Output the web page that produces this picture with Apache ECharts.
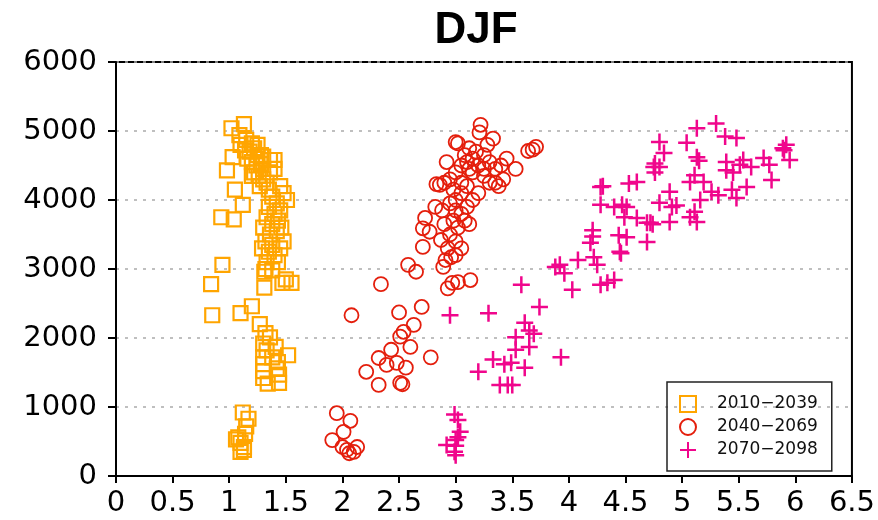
<!DOCTYPE html>
<html>
<head>
<meta charset="utf-8">
<script src="https://cdn.jsdelivr.net/npm/echarts@6/dist/echarts.min.js"></script>
<style>html,body{margin:0;padding:0;background:#fff}#c{width:878px;height:520px}</style>
</head>
<body>
<div id="c"></div>
<script>
const titleText = 'DJF';
const seriesNames = ['2010\u22122039', '2040\u22122069', '2070\u22122098'];
const xTicks = [0, 0.5, 1, 1.5, 2, 2.5, 3, 3.5, 4, 4.5, 5, 5.5, 6, 6.5];
const yTicks = [0, 1000, 2000, 3000, 4000, 5000, 6000];

const p2010 = [
 [1.12,920],[1.17,830],[1.15,720],[1.08,560],[1.1,480],[1.13,420],[1.1,350],[1.13,380],[1.06,530],[1.14,610],
 [0.85,2330],[1.1,2360],[1.2,2460],[1.27,2200],[1.32,2070],[1.36,2010],[1.3,1920],[1.33,1820],[1.3,1720],[1.3,1620],
 [1.3,1520],[1.3,1420],[1.34,1340],[1.44,1350],[1.42,1560],[1.43,1650],[1.52,1750],[1.41,1870],[1.38,1720],[1.44,1470],
 [0.84,2780],[0.94,3060],[0.93,3750],[1.04,3720],[1.12,3930],[1.05,4150],[0.98,4430],[1.03,4620],[1.09,4940],[1.02,5040],
 [1.13,5100],[1.1,4800],[1.15,4870],[1.2,4820],[1.18,4700],[1.22,4750],[1.25,4650],[1.16,4600],[1.2,4550],[1.24,4500],
 [1.28,4520],[1.3,4450],[1.22,4400],[1.26,4350],[1.3,4300],[1.27,4200],[1.33,4250],[1.36,4580],[1.4,4580],[1.4,4450],
 [1.35,4150],[1.48,4100],[1.51,4000],[1.38,4050],[1.42,3950],[1.35,3900],[1.4,3800],[1.45,3850],[1.33,3750],[1.38,3650],
 [1.43,3700],[1.3,3600],[1.36,3500],[1.42,3550],[1.32,3400],[1.38,3350],[1.29,3300],[1.35,3250],[1.4,3200],[1.33,3100],
 [1.43,3100],[1.31,2960],[1.38,2980],[1.31,2730],[1.47,2800],[1.55,2800],[1.5,2850],[1.25,4800],[1.14,4720],[1.3,4630],
 [1.2,4350],[1.45,4200],[1.32,3000],[1.46,3600],[1.48,3400],[1.45,3300],[1.36,4400],[1.28,4650]
];

const p2040 = [
 [1.95,910],[2.07,800],[2.01,640],[1.91,520],[2.0,420],[2.06,330],[2.13,420],[2.1,350],[2.04,380],
 [2.08,2330],[2.34,2780],[2.5,2370],[2.7,2450],[2.63,2190],[2.54,2090],[2.51,2020],[2.6,1870],[2.43,1830],[2.32,1710],
 [2.39,1610],[2.48,1640],[2.56,1570],[2.21,1510],[2.32,1320],[2.51,1350],[2.53,1330],[2.78,1720],
 [2.58,3060],[2.65,2960],[2.93,2720],[2.97,2800],[3.02,2810],[3.13,2840],[2.91,3130],[2.89,3030],[2.96,3170],[2.71,3320],
 [2.87,3420],[2.71,3590],[2.77,3540],[2.73,3740],[2.82,3900],[2.83,4230],[2.86,4220],[2.92,4550],[3.0,4840],[3.22,5090],
 [3.21,4980],[3.33,4890],[3.71,4770],[3.68,4730],[3.64,4710],[3.53,4450],[3.02,4820],
 [2.9,4250],[2.95,4300],[3.0,4400],[3.05,4500],[3.1,4550],[3.15,4600],[3.2,4500],[3.25,4650],[3.3,4550],[3.35,4450],
 [3.4,4500],[3.45,4600],[3.42,4300],[3.38,4200],[3.3,4250],[3.25,4350],[3.15,4400],[3.1,4200],[3.05,4100],[3.0,4000],
 [2.95,3950],[3.0,3850],[3.05,3800],[3.1,3900],[3.15,4000],[3.2,4100],[2.98,3700],[3.02,3600],[2.9,3650],[2.95,3500],
 [3.0,3400],[3.05,3300],[2.93,3300],[3.0,3200],[3.08,3700],[3.12,3650],[3.18,4700],[3.12,4750],[3.08,4650],[3.28,4800],
 [3.25,4450],[3.35,4250],[2.98,4150],[3.05,4250],[3.12,4450],[2.88,3850]
];

const p2070 = [
 [2.99,890],[3.02,810],[3.04,640],[3.0,520],[2.92,450],[2.99,350],[3.0,300],[3.0,440],[3.02,560],
 [2.95,2330],[3.29,2360],[3.58,2770],[3.74,2450],[3.61,2220],[3.65,2110],[3.69,2060],[3.53,2010],[3.65,1870],[3.53,1830],
 [3.33,1690],[3.43,1620],[3.49,1640],[3.61,1570],[3.2,1510],[3.39,1320],[3.46,1320],[3.5,1320],[3.93,1720],
 [3.88,3030],[4.03,2700],[4.28,2770],[4.25,3060],[3.92,3060],[3.96,2940],[4.08,3130],[4.22,3170],[4.34,2800],[4.4,2840],
 [4.19,3380],[4.21,3560],[4.21,3470],[4.28,4190],[4.28,3930],[4.4,3900],[4.47,3930],[4.51,3900],[4.49,3750],[4.44,3490],
 [4.51,3460],[4.45,3250],[4.46,3230],[4.6,3740],[4.69,3670],[4.69,3390],[4.53,4240],[4.6,4260],[4.75,4480],[4.76,4400],
 [4.8,4840],[4.84,4680],[4.76,4530],[4.8,4480],[4.89,4120],[5.07,4260],[5.11,4360],[5.13,4620],[5.15,4570],[5.04,4830],
 [5.13,5040],[5.3,5110],[5.38,4920],[5.48,4900],[5.32,4070],[5.44,4150],[5.48,4030],[5.57,4190],[5.45,4400],[5.51,4510],
 [5.54,4580],[5.61,4480],[5.39,4550],[5.39,4430],[5.72,4610],[5.77,4510],[5.79,4290],[5.89,4750],[5.92,4800],[5.9,4720],
 [5.95,4580],[4.91,3900],[4.8,3960],[4.95,3920],[5.07,3750],[5.11,3830],[5.13,3680],[4.89,3680],[4.72,3670],[5.16,4000],
 [5.26,4120],[5.19,4260],[4.74,3650],[4.3,4200]
];

const colors = ['#ffa500', '#e41e0c', '#f0068c'];
const FONT = 'DejaVu Sans';
const chart = echarts.init(document.getElementById('c'), null, {renderer: 'canvas'});

chart.setOption({
  animation: false,
  backgroundColor: '#fff',
  title: {
    text: titleText, left: 471, top: 4, textAlign: 'center',
    textStyle: {fontFamily: 'Liberation Sans', fontWeight: 'bold', fontSize: 44, color: '#000'}
  },
  grid: {left: 116, right: 22, top: 62, bottom: 44, show: true, borderColor: '#000', borderWidth: 2},
  legend: {
    orient: 'vertical', left: 667, top: 382,
    padding: [13, 14, 12, 12],
    itemWidth: 16, itemHeight: 16, itemGap: 5,
    borderColor: '#222', borderWidth: 1.5,
    textStyle: {fontFamily: FONT, fontSize: 17, color: '#111', padding: [0, 0, 0, 16]},
    data: seriesNames
  },
  xAxis: {
    type: 'value', min: xTicks[0], max: xTicks[xTicks.length - 1], interval: 0.5,
    axisLine: {lineStyle: {color: '#000', width: 2}},
    axisTick: {show: true, length: 7, lineStyle: {color: '#000', width: 2}},
    axisLabel: {fontFamily: FONT, fontSize: 29, color: '#000', margin: 13, formatter: v => String(v)},
    splitLine: {show: false}
  },
  yAxis: {
    type: 'value', min: yTicks[0], max: yTicks[yTicks.length - 1], interval: 1000,
    axisLine: {show: true, lineStyle: {color: '#000', width: 2}},
    axisTick: {show: true, length: 8, lineStyle: {color: '#000', width: 2}},
    axisLabel: {fontFamily: FONT, fontSize: 29, color: '#000', margin: 19, formatter: v => String(v)},
    splitLine: {show: true, lineStyle: {color: '#aaa', width: 1.5, type: [3, 6]}}
  },
  series: [
    {name: seriesNames[0], type: 'scatter', data: p2010, symbol: 'rect', symbolSize: 14,
     itemStyle: {color: 'rgba(0,0,0,0)', borderColor: colors[0], borderWidth: 2.2, opacity: 1}},
    {name: seriesNames[1], type: 'scatter', data: p2040, symbol: 'circle', symbolSize: 14,
     itemStyle: {color: 'rgba(0,0,0,0)', borderColor: colors[1], borderWidth: 1.8, opacity: 1}},
    {name: seriesNames[2], type: 'scatter', data: p2070, symbol: 'path://M0,5L10,5M5,0L5,10', symbolSize: 17,
     itemStyle: {color: 'rgba(0,0,0,0)', borderColor: colors[2], borderWidth: 2.5, opacity: 1}}
  ]
});
</script>
</body>
</html>
